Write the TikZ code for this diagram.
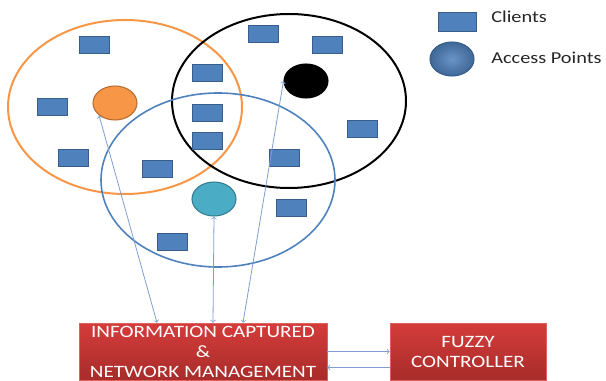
\documentclass[tikz,border=0pt]{standalone}
\usepackage{fontspec}
\setmainfont{Carlito}
\newfontfamily\widefont[FakeStretch=1.22]{Carlito}
\usetikzlibrary{shapes.geometric, arrows, positioning}

\definecolor{clifill}{HTML}{4F81BD}
\definecolor{cliedge}{HTML}{385D8A}
\definecolor{aporange}{HTML}{F79646}
\definecolor{aporangeedge}{HTML}{B66D31}
\definecolor{apteal}{HTML}{4BACC6}
\definecolor{aptealedge}{HTML}{357D91}
\definecolor{arrowblue}{HTML}{7F9FD0}
\definecolor{boxtop}{HTML}{D43C3A}
\definecolor{boxbottom}{HTML}{A82C2A}

\begin{document}
\begin{tikzpicture}[
    x=0.75pt, y=-0.75pt,
    client/.style={rectangle, draw=cliedge, fill=clifill, line width=0.6pt, minimum width=22.5pt, minimum height=12.75pt, inner sep=0pt},
    ap/.style={ellipse, line width=0.8pt, minimum width=33pt, minimum height=25.5pt, inner sep=0pt},
    coverage/.style={ellipse, line width=1.5pt, minimum width=175.5pt, minimum height=130.5pt, inner sep=0pt},
    block/.style={rectangle, top color=boxtop, bottom color=boxbottom, draw=boxtop!80!white, text=white, minimum height=42.75pt, align=center, font=\widefont\fontsize{13}{15}\selectfont, inner sep=0pt},
    legend/.style={anchor=west, text=black!85, font=\widefont\fontsize{12.5}{14}\selectfont, inner sep=0pt},
    arrow/.style={<->, >=to, draw=arrowblue, line width=0.6pt}
]
    \useasboundingbox (0,0) rectangle (606,381);

    % Coverage areas
    \node[coverage, draw=aporange] (areaA) at (125,107) {};
    \node[coverage, draw=black] (areaB) at (289,101) {};
    \node[coverage, draw=clifill, line width=1.2pt] (areaC) at (218,180) {};

    % Clients
    \node[client] (c1) at (94,45) {};
    \node[client] (c2) at (52,107) {};
    \node[client] (c3) at (73,158) {};
    \node[client] (c4) at (157,169) {};
    \node[client] (c5) at (207,73) {};
    \node[client] (c6) at (207,113) {};
    \node[client] (c7) at (207,141) {};
    \node[client] (c8) at (263,34) {};
    \node[client] (c9) at (284,158) {};
    \node[client] (c10) at (327,45) {};
    \node[client] (c11) at (362,129) {};
    \node[client] (c12) at (172,242) {};
    \node[client] (c13) at (291,208) {};

    % Access points
    \node[ap, draw=aporangeedge, fill=aporange] (apA) at (115,103) {};
    \node[ap, draw=black, fill=black] (apB) at (306,81) {};
    \node[ap, draw=aptealedge, fill=apteal] (apC) at (214,199) {};

    % Legend
    \node[client, minimum width=28.5pt, minimum height=14.25pt] (keyclient) at (457,22) {};
    \node[ap, draw=cliedge, inner color=clifill!85!white, outer color=clifill!80!black] (keyap) at (452,59) {};
    \node[legend] (keyclienttext) at (491,17) {Clients};
    \node[legend] (keyaptext) at (491,58) {Access Points};

    % Blocks
    \node[block, minimum width=186pt] (info) at (203,351.5) {INFORMATION CAPTURED\\\&\\NETWORK MANAGEMENT};
    \node[block, minimum width=117pt] (fuzzy) at (468,351.5) {FUZZY\\CONTROLLER};

    % Arrows
    \draw[arrow] (apA.south west) -- ([xshift=-34.5pt]info.north);
    \draw[arrow] (apC.south) -- ([xshift=7.5pt]info.north);
    \draw[arrow] (apB.west) -- ([xshift=30pt]info.north);
    \draw[arrow, <-] (fuzzy.west) -- (info.east);
    \draw[arrow, <-] ([yshift=-12pt]info.east) -- ([yshift=-12pt]fuzzy.west);

\end{tikzpicture}
\end{document}
